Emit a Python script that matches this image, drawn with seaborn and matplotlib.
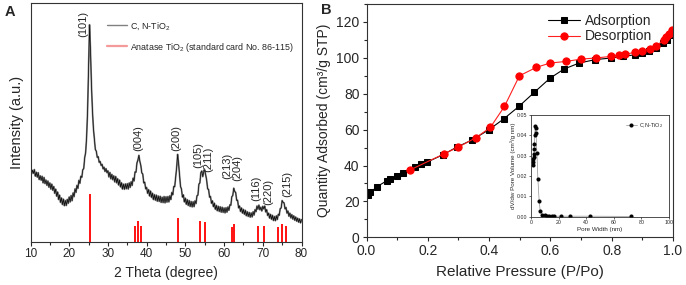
import numpy as np
import seaborn as sns
import matplotlib.pyplot as plt
from matplotlib.lines import Line2D
from matplotlib.ticker import MultipleLocator

# ---- Panel A: XRD pattern of C,N-TiO2 (intensity in a.u., 0.25 deg steps from 10 to 80)
theta_start, theta_stop, theta_step = 10, 80, 0.25
xrd_intensity = [
    30.8, 28.3, 29.9, 28.6, 30.2, 27.4, 29.1, 27.0, 28.9, 26.0, 27.6, 25.7, 27.4, 24.6, 26.9, 24.3, 25.8, 23.6, 25.4, 22.8,
    24.6, 22.0, 24.1, 21.5, 23.1, 20.2, 22.0, 19.0, 20.8, 17.6, 19.5, 16.4, 18.3, 15.5, 17.8, 15.0, 17.2, 15.1, 17.7, 16.0,
    18.7, 16.6, 19.3, 17.1, 20.4, 18.8, 22.1, 20.6, 23.6, 22.3, 25.7, 24.4, 27.4, 26.9, 30.1, 30.6, 35.2, 37.4, 44.0, 55.0,
    73.0, 91.0, 80.0, 65.5, 55.0, 47.5, 42.8, 38.6, 37.9, 35.3, 35.6, 33.2, 33.6, 31.9, 32.4, 30.5, 31.2, 29.4, 30.6, 28.9,
    29.7, 27.1, 29.0, 26.3, 28.2, 25.9, 27.6, 25.0, 27.3, 24.6, 26.4, 23.7, 25.8, 22.9, 24.7, 22.0, 24.1, 21.9, 24.2, 22.1,
    24.3, 22.0, 24.6, 22.7, 25.1, 23.5, 26.6, 25.4, 29.2, 29.1, 33.0, 34.2, 36.2, 33.6, 31.9, 28.8, 28.3, 24.6, 24.9, 22.1,
    22.7, 20.2, 21.8, 19.1, 21.2, 18.5, 20.3, 17.6, 19.7, 17.3, 19.5, 16.9, 19.1, 16.8, 19.0, 16.4, 18.6, 16.3, 18.9, 16.2,
    18.8, 16.5, 18.9, 16.6, 19.2, 17.6, 20.6, 19.6, 23.1, 23.0, 27.1, 31.0, 36.6, 32.8, 27.9, 23.1, 22.0, 18.6, 19.6, 16.6,
    18.2, 15.6, 17.6, 15.1, 17.2, 14.7, 16.8, 14.5, 16.7, 14.6, 17.1, 15.9, 19.2, 19.5, 24.1, 24.6, 28.9, 29.6, 27.2, 29.3,
    30.1, 28.0, 25.8, 22.1, 21.9, 18.6, 18.9, 16.0, 17.1, 14.6, 16.1, 13.5, 15.2, 12.9, 14.8, 12.6, 14.6, 12.3, 14.4, 12.2,
    14.1, 12.0, 14.2, 12.3, 14.5, 13.1, 15.4, 15.2, 18.8, 19.3, 22.4, 21.0, 20.6, 17.3, 17.3, 14.1, 14.9, 12.6, 14.1, 11.9,
    13.5, 11.4, 13.1, 10.8, 12.5, 10.5, 12.2, 10.2, 12.0, 10.3, 12.5, 11.1, 13.4, 12.5, 14.9, 13.6, 15.3, 13.3, 14.4, 12.8,
    14.8, 13.7, 14.9, 12.4, 13.4, 10.9, 11.9, 9.8, 11.4, 9.3, 11.0, 8.8, 10.5, 8.7, 10.8, 9.2, 11.4, 11.0, 13.8, 14.1,
    17.2, 16.4, 16.2, 13.7, 14.3, 11.9, 12.8, 10.6, 11.9, 9.9, 11.3, 9.4, 10.8, 8.9, 10.3, 8.5, 9.8, 8.1, 9.5, 7.8, 9.2,
]
# standard card lines (anatase)
anatase_pos = [25.28, 36.95, 37.80, 38.58, 48.05, 53.89, 55.06, 62.12, 62.69, 68.76, 70.31, 74.03, 75.03, 76.02]
anatase_height = [19.9, 6.5, 8.4, 6.5, 9.8, 8.4, 8.1, 6.2, 7.3, 6.7, 6.7, 6.2, 7.3, 6.6]
# peak indices
peak_labels = ["(101)", "(004)", "(200)", "(105)", "(211)", "(213)", "(204)", "(116)", "(220)", "(215)"]
peak_label_x = [23.6, 37.8, 47.6, 53.3, 56.0, 60.8, 63.4, 68.3, 71.3, 76.2]
peak_label_y = [91.3, 43.6, 43.6, 36.5, 34.4, 31.6, 30.9, 22.5, 20.6, 24.2]

# ---- Panel B: N2 isotherm
ads_p = [0.004, 0.013, 0.035, 0.067, 0.078, 0.100, 0.119, 0.159, 0.177, 0.199, 0.248, 0.294, 0.345, 0.399, 0.448,
         0.497, 0.547, 0.599, 0.645, 0.694, 0.746, 0.797, 0.837, 0.876, 0.899, 0.921, 0.945, 0.966, 0.981, 0.991, 0.998]
ads_q = [23.6, 25.0, 28.3, 31.6, 32.6, 34.4, 36.1, 39.1, 40.6, 42.0, 45.9, 50.2, 54.3, 59.9, 66.0,
         72.9, 80.7, 88.7, 93.8, 97.1, 99.0, 99.9, 100.8, 101.7, 102.7, 103.6, 105.5, 108.3, 109.7, 112.9, 114.4]
des_p = [0.997, 0.986, 0.978, 0.970, 0.945, 0.926, 0.899, 0.875, 0.845, 0.824, 0.797, 0.748, 0.700, 0.651, 0.599,
         0.554, 0.499, 0.450, 0.404, 0.356, 0.299, 0.253, 0.143]
des_q = [115.3, 113.3, 111.6, 110.1, 106.4, 104.9, 104.0, 103.0, 102.1, 101.6, 100.8, 99.9, 99.3, 98.0, 97.1,
         94.7, 90.0, 72.9, 61.2, 55.4, 50.2, 46.5, 37.6]

# ---- Inset: pore size distribution
pore_w = [1.4, 1.5, 1.7, 1.9, 2.1, 2.3, 2.5, 2.7, 3.1, 3.3, 3.6, 4.3, 5.0, 5.9, 6.7, 8.3, 10.2, 11.9, 13.3,
          15.0, 16.9, 21.4, 28.5, 43.0, 72.4]
pore_dv = [0.0254, 0.0270, 0.0282, 0.0295, 0.0307, 0.0331, 0.0360, 0.0402, 0.0446, 0.0434, 0.0413, 0.0311,
           0.0184, 0.0079, 0.0028, 0.0011, 0.0007, 0.0005, 0.0005, 0.0003, 0.0003, 0.0003, 0.0003, 0.0003, 0.0002]

sns.set_style("ticks")
plt.rcParams['font.family'] = ['Liberation Sans', 'DejaVu Sans']
plt.rcParams['mathtext.fontset'] = 'custom'
plt.rcParams['mathtext.rm'] = 'Liberation Sans'
plt.rcParams['mathtext.it'] = 'Liberation Sans:italic'
plt.rcParams['axes.edgecolor'] = '#333333'
plt.rcParams['axes.linewidth'] = 0.8

W, H = 686, 285
fig = plt.figure(figsize=(W / 100, H / 100), dpi=100)

# axes placed in pixel boxes (left, top, right, bottom)
def box(l, t, r, b):
    return [l / W, 1 - b / H, (r - l) / W, (b - t) / H]

axA = fig.add_axes(box(30.5, 3.3, 301.5, 241.5))
axB = fig.add_axes(box(366.5, 4, 673, 237.3))
axI = fig.add_axes(box(531, 115, 669, 216.8))

# Panel A
theta = np.arange(theta_start, theta_stop + theta_step / 2, theta_step)
sns.lineplot(x=theta, y=xrd_intensity, ax=axA, color='#8a8a8a', lw=1.3)
sns.lineplot(x=theta, y=xrd_intensity, ax=axA, color='#111111', lw=0.55)
axA.vlines(anatase_pos, 0, anatase_height, colors='#ff1010', lw=1.4)
for lab, px, py in zip(peak_labels, peak_label_x, peak_label_y):
    axA.text(px, py, lab, rotation=90, ha='center', va='center', fontsize=8)
axA.set_xlim(10, 80)
axA.set_ylim(0, 100)
axA.xaxis.set_major_locator(MultipleLocator(10))
axA.xaxis.set_minor_locator(MultipleLocator(5))
axA.set_yticks([])
axA.tick_params(axis='x', which='major', direction='out', length=3, width=0.8, labelsize=8.5, pad=2)
axA.tick_params(axis='x', which='minor', direction='out', length=2, width=0.8)
axA.set_xlabel("2 Theta (degree)", fontsize=10, labelpad=4)
axA.set_ylabel("Intensity (a.u.)", fontsize=10.5, labelpad=5)
handlesA = [Line2D([], [], color='#808080', lw=1.0),
            Line2D([], [], color='#f59a9a', lw=1.6)]
axA.legend(handlesA, ["C, N-TiO$_2$", "Anatase TiO$_2$ (standard card No. 86-115)"],
           loc='upper left', bbox_to_anchor=(0.265, 0.95), frameon=False, fontsize=6.4,
           handlelength=2.3, handletextpad=0.3, labelspacing=1.0, borderpad=0)

# Panel B
sns.lineplot(x=ads_p, y=ads_q, ax=axB, color='black', lw=0.8, marker='s', markersize=4.6,
             markeredgecolor='black', label='Adsorption', sort=False)
sns.lineplot(x=des_p, y=des_q, ax=axB, color='#ff2020', lw=0.8, marker='o', markersize=5.2,
             markeredgecolor='#ff0000', markerfacecolor='#ff0000', label='Desorption', sort=False)
axB.set_xlim(0, 1.0)
axB.set_ylim(0, 130)
axB.xaxis.set_major_locator(MultipleLocator(0.2))
axB.xaxis.set_minor_locator(MultipleLocator(0.1))
axB.yaxis.set_major_locator(MultipleLocator(20))
axB.yaxis.set_minor_locator(MultipleLocator(10))
axB.tick_params(which='major', direction='out', length=3, width=0.8, labelsize=10, pad=2)
axB.tick_params(which='minor', direction='out', length=2, width=0.8)
axB.set_xlabel("Relative Pressure (P/Po)", fontsize=11, labelpad=5)
axB.set_ylabel("Quantity Adsorbed (cm³/g STP)", fontsize=10, labelpad=4)
axB.legend(loc='upper right', bbox_to_anchor=(0.965, 1.0), frameon=False, fontsize=10,
           handlelength=2.3, handletextpad=0.4, labelspacing=0.12, borderpad=0.2)

# Inset
sns.lineplot(x=pore_w, y=pore_dv, ax=axI, color='#909090', lw=0.5, marker='o', markersize=2.2,
             markerfacecolor='black', markeredgecolor='black', label='C,N-TiO$_2$')
axI.set_xlim(0, 100)
axI.set_ylim(0, 0.05)
axI.xaxis.set_major_locator(MultipleLocator(20))
axI.yaxis.set_major_locator(MultipleLocator(0.01))
axI.yaxis.set_major_formatter(plt.FormatStrFormatter('%.2f'))
axI.tick_params(direction='out', length=1.5, width=0.5, labelsize=3.8, pad=1)
for s in axI.spines.values():
    s.set_linewidth(0.6)
axI.set_xlabel("Pore Width (nm)", fontsize=4.5, labelpad=1)
axI.set_ylabel("dV/dw Pore Volume (cm³/g nm)", fontsize=4.5, labelpad=1)
axI.legend(loc='upper right', frameon=False, fontsize=4, handlelength=2, handletextpad=0.3, borderpad=0.6)

# panel letters
fig.text(10 / W, 1 - 12 / H, "A", fontsize=10.5, fontweight='bold', ha='center', va='center')
fig.text(326 / W, 1 - 10 / H, "B", fontsize=10.5, fontweight='bold', ha='center', va='center')

fig.savefig("out.png", dpi=100)
